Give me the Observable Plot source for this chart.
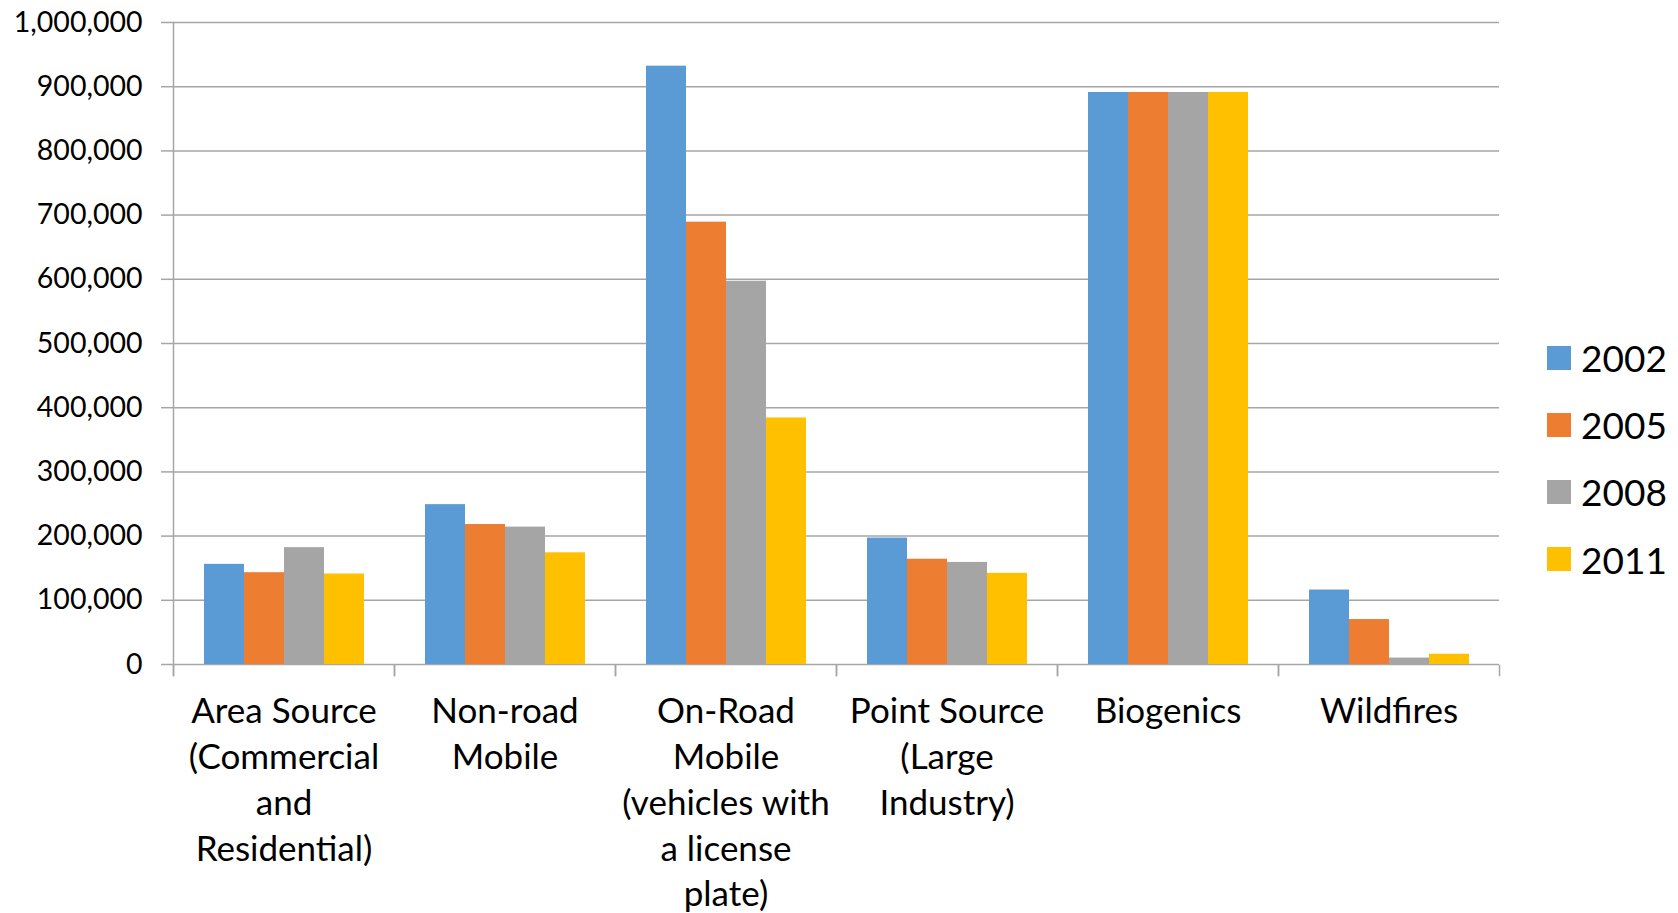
<!DOCTYPE html>
<html>
<head>
<meta charset="utf-8">
<script src="https://cdn.jsdelivr.net/npm/d3@7"></script>
<script src="https://cdn.jsdelivr.net/npm/@observablehq/plot@0.6"></script>
<style>
  html, body { margin: 0; padding: 0; background: #fff; }
  #wrap { position: relative; width: 1678px; height: 913px; font-family: Lato, sans-serif; }
  #legend { position: absolute; left: 1547px; top: 324px; }
  .row { display: flex; align-items: center; height: 67.2px; }
  .sw { width: 24px; height: 24px; margin-right: 10px; }
  .lab { font-size: 37px; line-height: 1; color: #000; }
</style>
</head>
<body>
<div id="wrap"></div>
<script>
// ---- data ----
const categories = [
  "Area Source (Commercial and Residential)",
  "Non-road Mobile",
  "On-Road Mobile (vehicles with a license plate)",
  "Point Source (Large Industry)",
  "Biogenics",
  "Wildfires"
];
const categoryLabels = [
  "Area Source\n(Commercial\nand\nResidential)",
  "Non-road\nMobile",
  "On-Road\nMobile\n(vehicles with\na license\nplate)",
  "Point Source\n(Large\nIndustry)",
  "Biogenics",
  "Wildfires"
];
const years = ["2002", "2005", "2008", "2011"];
const values2002 = [156000, 249000, 932000, 197000, 891000, 116000];
const values2005 = [143000, 218000, 689000, 164000, 891000, 70000];
const values2008 = [182000, 214000, 597000, 159000, 891000, 10000];
const values2011 = [141000, 174000, 384000, 142000, 891000, 16000];
const yTicks = [0, 100000, 200000, 300000, 400000, 500000, 600000, 700000, 800000, 900000, 1000000];
const colors = ["#5B9BD5", "#ED7D31", "#A5A5A5", "#FFC000"];

// ---- table built from arrays ----
const seriesValues = [values2002, values2005, values2008, values2011];
const rows = [];
categories.forEach((c, i) => {
  years.forEach((y, j) => rows.push({category: c, year: y, value: seriesValues[j][i]}));
});
const labelOf = new Map(categories.map((c, i) => [c, categoryLabels[i]]));

const gridColor = "#a6a6a6";

const chart = Plot.plot({
  width: 1678,
  height: 913,
  marginLeft: 172,
  marginRight: 178,
  marginTop: 22,
  marginBottom: 249,
  style: {fontFamily: "Lato, sans-serif", background: "white", color: "black"},
  fx: {domain: categories, padding: 0, label: null},
  x: {domain: years, paddingInner: 0, paddingOuter: 0.755, axis: null},
  y: {domain: [0, 1000000], axis: null, label: null},
  color: {domain: years, range: colors},
  marks: [
    Plot.gridY(yTicks, {stroke: gridColor, strokeOpacity: 1, strokeWidth: 1.5}),
    Plot.barY(rows, {fx: "category", x: "year", y: "value", fill: "year"}),
    Plot.frame({anchor: "left", stroke: gridColor, strokeWidth: 1.5, insetTop: 643, insetBottom: -11}),
    Plot.frame({anchor: "right", stroke: gridColor, strokeWidth: 1.5, insetTop: 643, insetBottom: -11}),
    Plot.frame({anchor: "left", stroke: gridColor, strokeWidth: 1.5, insetBottom: -11, fx: () => categories[0]}),
    Plot.axisY(yTicks, {
      label: null,
      tickFormat: d3.format(","), tickSize: 12, tickPadding: 19,
      fontSize: 28.5, stroke: gridColor, strokeWidth: 1.5, fill: "black"
    }),
    Plot.axisFx({
      anchor: "bottom", tickSize: 0, tickPadding: 26, label: null,
      tickFormat: d => labelOf.get(d), fontSize: 35, lineHeight: 1.31, fill: "black"
    })
  ]
});

const wrap = document.getElementById("wrap");
wrap.appendChild(chart);

// legend
const legend = document.createElement("div");
legend.id = "legend";
years.forEach((y, j) => {
  const row = document.createElement("div");
  row.className = "row";
  const sw = document.createElement("div");
  sw.className = "sw";
  sw.style.background = colors[j];
  const lab = document.createElement("span");
  lab.className = "lab";
  lab.textContent = y;
  row.appendChild(sw);
  row.appendChild(lab);
  legend.appendChild(row);
});
wrap.appendChild(legend);
</script>
</body>
</html>
